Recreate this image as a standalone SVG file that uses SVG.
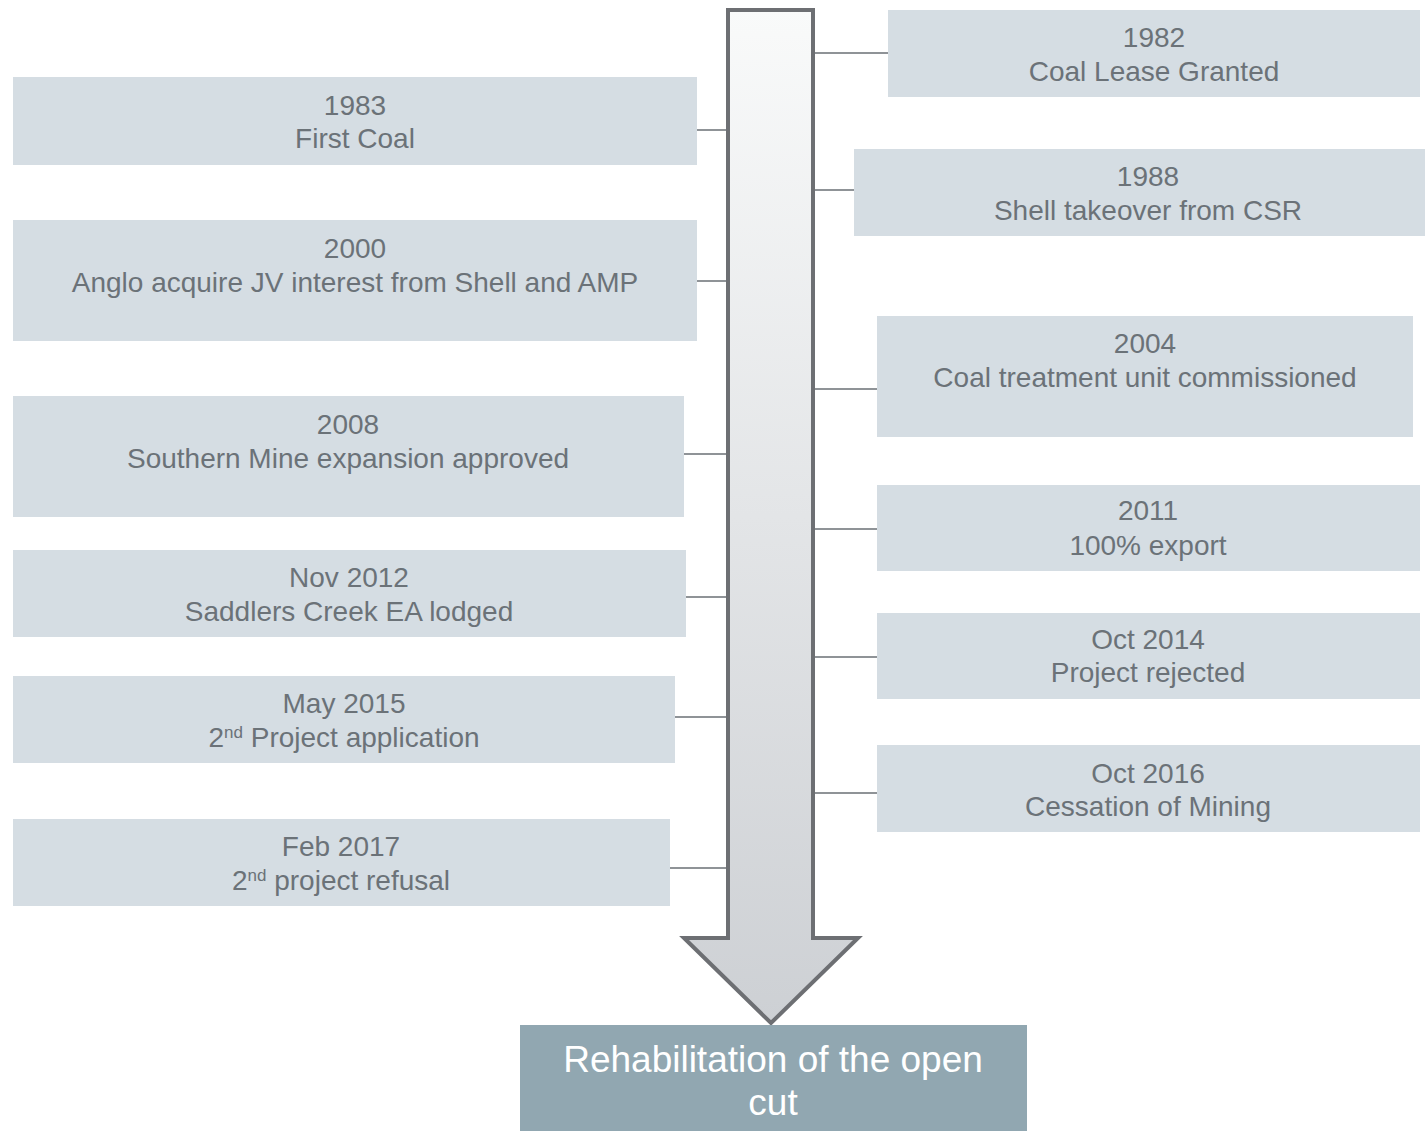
<svg xmlns="http://www.w3.org/2000/svg" width="1425" height="1131" viewBox="0 0 1425 1131">
<defs>
<linearGradient id="ag" x1="0" y1="0" x2="0" y2="1">
<stop offset="0" stop-color="#f9fafa"/>
<stop offset="1" stop-color="#cdd0d4"/>
</linearGradient>
<style>
.box{fill:#d5dde3}
.t{font-family:"Liberation Sans",Arial,sans-serif;font-size:28px;fill:#6b7278;text-anchor:middle}
.c{stroke:#8f9397;stroke-width:2;fill:none}
.sup{font-size:17px}
</style>
</defs>
<rect width="1425" height="1131" fill="#ffffff"/>
<g id="connectors">
<line class="c" x1="815" y1="53" x2="888" y2="53"/>
<line class="c" x1="815" y1="190" x2="854" y2="190"/>
<line class="c" x1="815" y1="389" x2="877" y2="389"/>
<line class="c" x1="815" y1="529" x2="877" y2="529"/>
<line class="c" x1="815" y1="657" x2="877" y2="657"/>
<line class="c" x1="815" y1="793" x2="877" y2="793"/>
<line class="c" x1="697" y1="130" x2="726" y2="130"/>
<line class="c" x1="697" y1="281" x2="726" y2="281"/>
<line class="c" x1="684" y1="454" x2="726" y2="454"/>
<line class="c" x1="686" y1="597" x2="726" y2="597"/>
<line class="c" x1="675" y1="717" x2="726" y2="717"/>
<line class="c" x1="670" y1="868" x2="726" y2="868"/>
</g>
<g id="arrow">
<path d="M728 10 L813 10 L813 938 L858 938 L771 1023 L684 938 L728 938 Z" fill="url(#ag)" stroke="#6d6f73" stroke-width="4" stroke-linejoin="miter"/>
</g>
<g id="n1983"><rect class="box" x="13" y="77" width="684" height="88"/><text class="t" x="355" y="115">1983</text><text class="t" x="355" y="148">First Coal</text></g>
<g id="n2000"><rect class="box" x="13" y="220" width="684" height="121"/><text class="t" x="355" y="258">2000</text><text class="t" x="355" y="292">Anglo acquire JV interest from Shell and AMP</text></g>
<g id="n2008"><rect class="box" x="13" y="396" width="671" height="121"/><text class="t" x="348" y="434">2008</text><text class="t" x="348" y="468">Southern Mine expansion approved</text></g>
<g id="n2012"><rect class="box" x="13" y="550" width="673" height="87"/><text class="t" x="349" y="587">Nov 2012</text><text class="t" x="349" y="621">Saddlers Creek EA lodged</text></g>
<g id="n2015"><rect class="box" x="13" y="676" width="662" height="87"/><text class="t" x="344" y="713">May 2015</text><text class="t" x="344" y="747">2<tspan class="sup" baseline-shift="super">nd</tspan> Project application</text></g>
<g id="n2017"><rect class="box" x="13" y="819" width="657" height="87"/><text class="t" x="341" y="856">Feb 2017</text><text class="t" x="341" y="890">2<tspan class="sup" baseline-shift="super">nd</tspan> project refusal</text></g>
<g id="n1982"><rect class="box" x="888" y="10" width="532" height="87"/><text class="t" x="1154" y="47">1982</text><text class="t" x="1154" y="81">Coal Lease Granted</text></g>
<g id="n1988"><rect class="box" x="854" y="149" width="571" height="87"/><text class="t" x="1148" y="186">1988</text><text class="t" x="1148" y="220">Shell takeover from CSR</text></g>
<g id="n2004"><rect class="box" x="877" y="316" width="536" height="121"/><text class="t" x="1145" y="353">2004</text><text class="t" x="1145" y="387">Coal treatment unit commissioned</text></g>
<g id="n2011"><rect class="box" x="877" y="485" width="543" height="86"/><text class="t" x="1148" y="520">2011</text><text class="t" x="1148" y="555">100% export</text></g>
<g id="n2014"><rect class="box" x="877" y="613" width="543" height="86"/><text class="t" x="1148" y="649">Oct 2014</text><text class="t" x="1148" y="682">Project rejected</text></g>
<g id="n2016"><rect class="box" x="877" y="745" width="543" height="87"/><text class="t" x="1148" y="783">Oct 2016</text><text class="t" x="1148" y="816">Cessation of Mining</text></g>
<g id="rehab"><rect x="520" y="1025" width="507" height="106" fill="#91a7b1"/><text class="t" x="773" y="1072" style="font-size:37px;fill:#ffffff">Rehabilitation of the open</text><text class="t" x="773" y="1115" style="font-size:37px;fill:#ffffff">cut</text></g>
</svg>
